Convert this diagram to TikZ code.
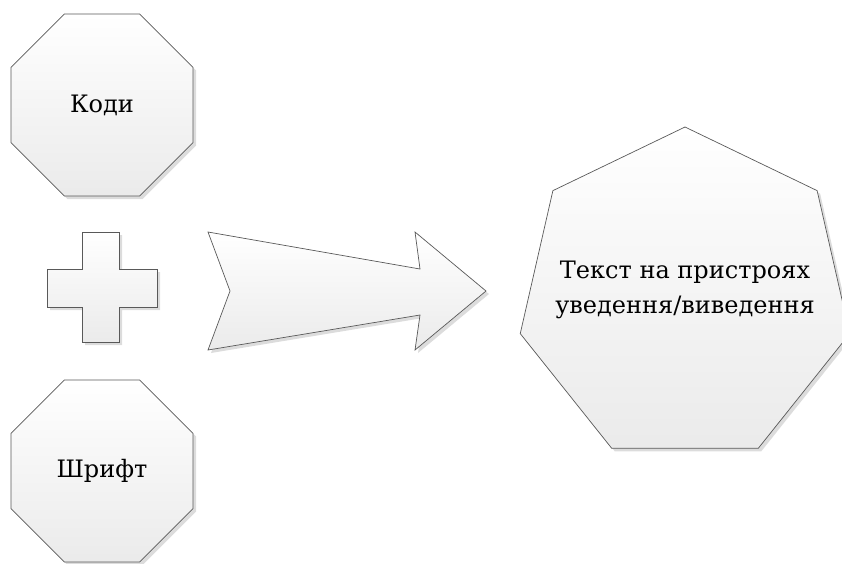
\documentclass[tikz,border=0pt]{standalone}
\usepackage{fontspec}
\setmainfont{DejaVu Serif}
\usetikzlibrary{shapes.geometric, shadows}

\tikzset{
	fig/.style={draw=black!65, line width=0.7pt, top color=white, bottom color=black!8,
		drop shadow={shadow xshift=3pt, shadow yshift=-3pt, fill=black!30, opacity=0.45}},
	octa/.style={fig, regular polygon, regular polygon sides=8, minimum size=197pt,
		inner sep=0pt, font=\fontsize{24}{30}\selectfont},
	hepta/.style={fig, regular polygon, regular polygon sides=7, minimum size=338pt,
		inner sep=0pt},
	caption/.style={align=center, inner sep=0pt, font=\fontsize{24}{35}\selectfont}
}

\begin{document}
\begin{tikzpicture}[x=1pt, y=-1pt]
				\useasboundingbox (0,0) rectangle (842,563);
				\clip (0,0) rectangle (842,563);
				
				%%% ВХІД
				\node[octa] (kody) at (102,105) {Коди};
				\node[octa] (shryft) at (102,471) {Шрифт};
				
				%%% ПЛЮС
				\draw[fig] (82,232) -- (119,232) -- (119,269) -- (157,269) -- (157,307)
					-- (119,307) -- (119,342) -- (82,342) -- (82,307) -- (47,307)
					-- (47,269) -- (82,269) -- cycle;
				
				%%% СТРІЛКА
				\draw[fig] (208,232) -- (420,269) -- (415,232) -- (486,291) -- (415,350)
					-- (420,315) -- (208,350) -- (230,291) -- cycle;
				
				%%% РЕЗУЛЬТАТ
				\node[hepta] (tekst) at (685,296) {};
				\node[caption, yshift=6pt] (tekstnapys) at (tekst.center) {Текст на пристроях\\уведення/виведення};
\end{tikzpicture}
\end{document}
